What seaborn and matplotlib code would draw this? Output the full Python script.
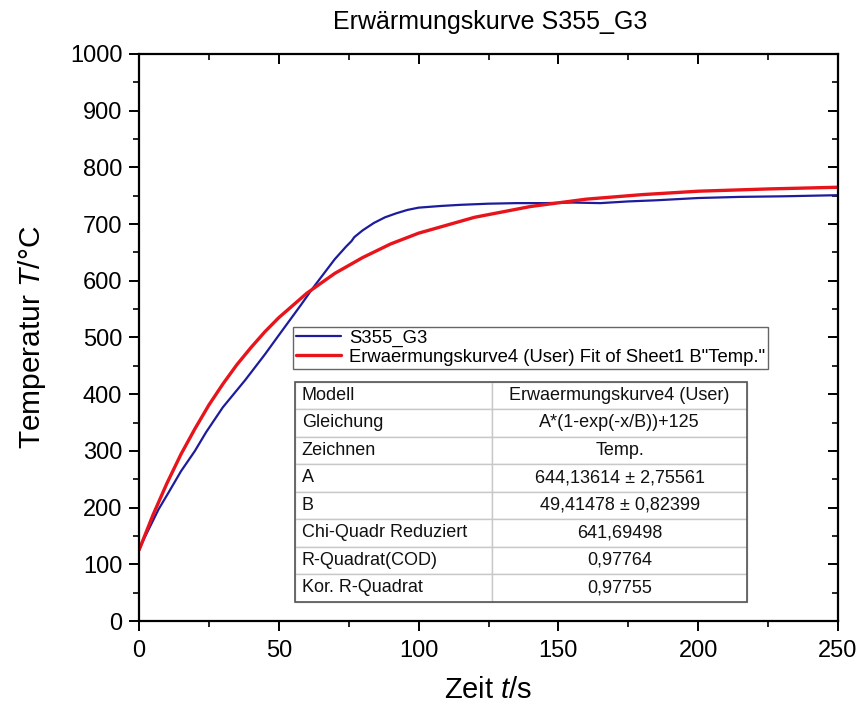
import matplotlib
matplotlib.use("Agg")
import matplotlib.pyplot as plt
import seaborn as sns
import pandas as pd
from matplotlib.ticker import MultipleLocator
from matplotlib.patches import Rectangle

# ---- data ----
t_meas = [0, 2, 4.5, 7, 10.5, 15, 20, 24, 30, 38, 45, 50, 54, 58, 62, 66, 70, 74, 76, 77,
          80, 84, 88, 92, 96, 100, 108, 115, 125, 135, 145, 155, 165, 175, 185, 200, 215, 230, 240, 250]
T_meas = [125, 147, 172, 197, 226, 264, 300, 333, 377, 425, 470, 504, 531, 558, 586, 612, 638, 660, 670, 677,
          689, 702, 712, 719, 725, 729, 732, 734, 736, 737, 737, 738, 737, 740, 742, 746, 748, 749, 750, 751]
t_fit = [0, 5, 10, 15, 20, 25, 30, 35, 40, 45, 50, 60, 70, 80, 90, 100, 120, 140, 160, 180, 200, 225, 250]
T_fit = [125, 187, 243, 294, 339, 381, 418, 452, 482, 510, 535, 578, 613, 641, 665, 684, 712, 731, 744, 752, 758, 762, 765]

series_names = ["S355_G3", 'Erwaermungskurve4 (User) Fit of Sheet1 B"Temp."']
series_colors = ["#1c1c9c", "#e8141c"]

table_labels = ["Modell", "Gleichung", "Zeichnen", "A", "B", "Chi-Quadr Reduziert",
                "R-Quadrat(COD)", "Kor. R-Quadrat"]
table_values = ["Erwaermungskurve4 (User)", "A*(1-exp(-x/B))+125", "Temp.",
                "644,13614 ± 2,75561", "49,41478 ± 0,82399", "641,69498", "0,97764", "0,97755"]

title = "Erwärmungskurve S355_G3"
xlabel = "Zeit $\\mathit{t}$/s"
ylabel = "Temperatur $\\mathit{T}$/°C"

# ---- style ----
sns.set_theme(style="ticks")
plt.rcParams["font.family"] = ["Liberation Sans", "DejaVu Sans"]
plt.rcParams["mathtext.fontset"] = "custom"
plt.rcParams["mathtext.rm"] = "Liberation Sans"
plt.rcParams["mathtext.it"] = "Liberation Sans:italic"
plt.rcParams["text.color"] = "black"
plt.rcParams["axes.labelcolor"] = "black"

fig = plt.figure(figsize=(8.61, 7.06), dpi=100)
ax = fig.add_axes([139 / 861, 85 / 706, 699 / 861, 567 / 706])

df_meas = pd.DataFrame({"t": t_meas, "T": T_meas, "s": series_names[0]})
df_fit = pd.DataFrame({"t": t_fit, "T": T_fit, "s": series_names[1]})

sns.lineplot(data=df_meas, x="t", y="T", ax=ax, color=series_colors[0], lw=1.6,
             label=series_names[0], sort=True)
sns.lineplot(data=df_fit, x="t", y="T", ax=ax, color=series_colors[1], lw=2.4,
             label=series_names[1], sort=True)

ax.set_xlim(0, 250)
ax.set_ylim(0, 1000)
ax.xaxis.set_major_locator(MultipleLocator(50))
ax.xaxis.set_minor_locator(MultipleLocator(25))
ax.yaxis.set_major_locator(MultipleLocator(100))
ax.yaxis.set_minor_locator(MultipleLocator(50))

for sp in ax.spines.values():
    sp.set_visible(True)
    sp.set_linewidth(1.6)
    sp.set_color("black")

ax.tick_params(which="major", direction="out", length=7, width=1.4, labelsize=17,
               colors="black")
ax.tick_params(axis="x", which="major", pad=7)
ax.tick_params(axis="y", which="major", pad=5)
ax.tick_params(which="minor", direction="out", length=4, width=1.2, colors="black")
ax.tick_params(which="both", top=True, right=True)
# top and right ticks point inward
for tick in ax.xaxis.get_major_ticks() + ax.xaxis.get_minor_ticks():
    tick.tick2line.set_marker(3)  # TICKDOWN
for tick in ax.yaxis.get_major_ticks() + ax.yaxis.get_minor_ticks():
    tick.tick2line.set_marker(0)  # TICKLEFT

ax.set_xlabel(xlabel, fontsize=21, labelpad=10, color="black")
ax.set_ylabel(ylabel, fontsize=21.5, labelpad=16, color="black")
fig.text(490 / 861, 1 - 22 / 706, title, fontsize=18, ha="center", va="center", color="black")

leg = ax.legend(loc="upper left", bbox_to_anchor=(0.221, 0.5185), fontsize=13.3,
                frameon=True, fancybox=False, edgecolor="#666666", framealpha=1,
                handlelength=2.4, borderpad=0.15, labelspacing=0.1, handletextpad=0.45,
                borderaxespad=0)
leg.get_frame().set_linewidth(1.0)
for txt in leg.get_texts():
    txt.set_color("black")

# ---- parameter table ----
cells = [[a, b] for a, b in zip(table_labels, table_values)]
tb = ax.table(cellText=cells, cellLoc="center", colWidths=[0.436, 0.564],
              bbox=[0.223, 0.034, 0.647, 0.388], zorder=5)
tb.auto_set_font_size(False)
tb.set_fontsize(13)
for (r, c), cell in tb.get_celld().items():
    cell.set_edgecolor("#c8c8c8")
    cell.set_linewidth(1.0)
    cell.set_facecolor("white")
    cell.get_text().set_color("#111111")
    if c == 0:
        cell.set_text_props(ha="left")
        cell.PAD = 0.035
ax.add_patch(Rectangle((0.223, 0.034), 0.647, 0.388, transform=ax.transAxes,
                       fill=False, edgecolor="#555555", lw=1.2, zorder=6))

fig.savefig("out.png", dpi=100)
